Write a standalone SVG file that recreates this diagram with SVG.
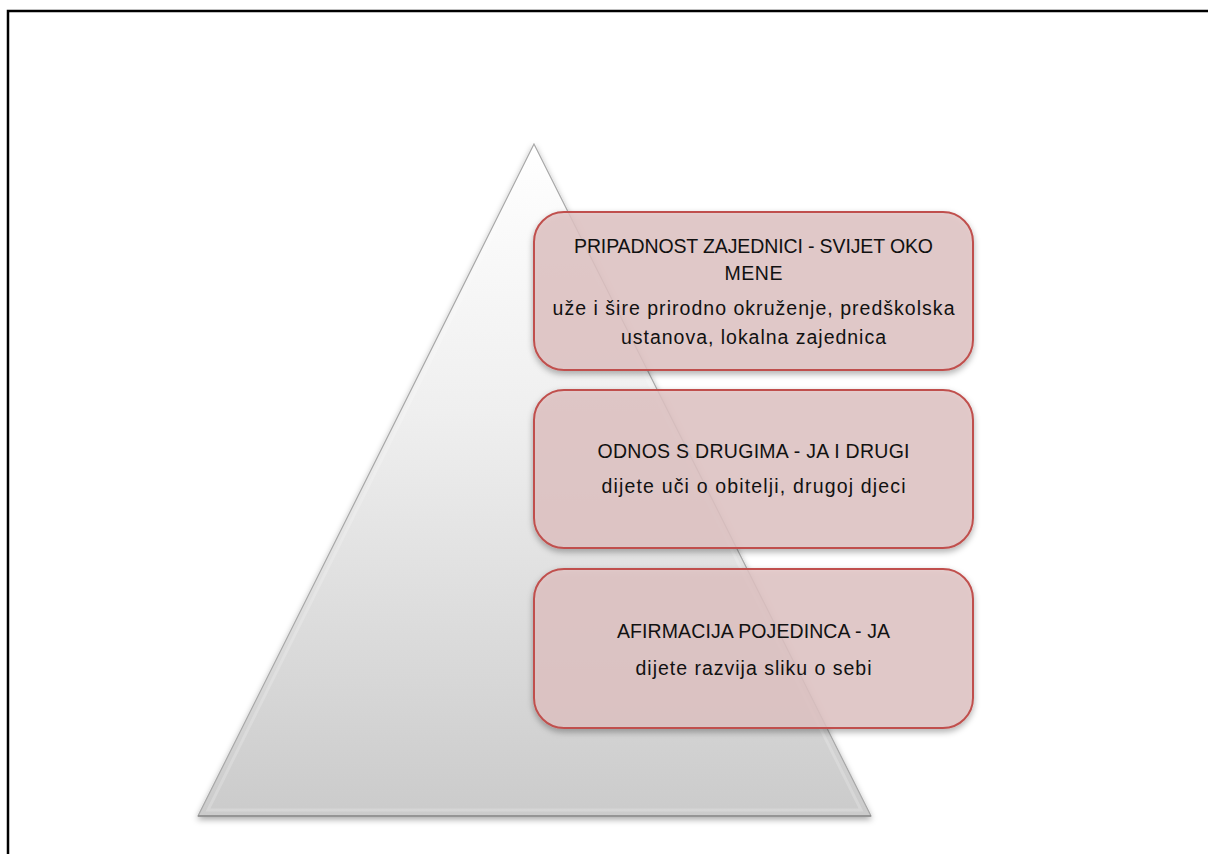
<svg xmlns="http://www.w3.org/2000/svg" width="1208" height="854" viewBox="0 0 1208 854">
<style>
.frame{fill:none;stroke:#000;stroke-width:2.5}
.box{fill:#e2c4c4;fill-opacity:0.82;stroke:#c0504d;stroke-width:2}
.t{font-family:"Liberation Sans",Arial,sans-serif;font-size:19.5px;fill:#111;text-anchor:middle}
</style>
<defs>
<linearGradient id="tri" x1="0" y1="0" x2="0" y2="1">
<stop offset="0" stop-color="#ffffff"/>
<stop offset="0.4" stop-color="#efefef"/>
<stop offset="1" stop-color="#cbcbcb"/>
</linearGradient>
<filter id="sh" x="-10%" y="-10%" width="120%" height="130%">
<feDropShadow dx="0" dy="3" stdDeviation="3" flood-color="#000" flood-opacity="0.35"/>
</filter>
</defs>
<rect class="frame" x="8" y="11" width="1220" height="870"/>
<g id="pyramid">
<polygon points="534,144 198,816 871,816" fill="url(#tri)" stroke="#a8a8a8" stroke-width="1.2" filter="url(#sh)"/>
<polygon points="534,152 208,810 861,810" fill="none" stroke="#ffffff" stroke-opacity="0.2" stroke-width="3"/>
<line x1="198" y1="816" x2="871" y2="816" stroke="#888" stroke-width="1.5"/>
</g>
<g id="box-top">
<rect class="box" x="534" y="212" width="439" height="158" rx="30" filter="url(#sh)"/>
<text class="t" x="753.5" y="253" textLength="359">PRIPADNOST ZAJEDNICI - SVIJET OKO</text>
<text class="t" x="753.5" y="280" textLength="58">MENE</text>
<text class="t" x="753.5" y="315" textLength="402">uže i šire prirodno okruženje, predškolska</text>
<text class="t" x="753.5" y="344" textLength="265">ustanova, lokalna zajednica</text>
</g>
<g id="box-middle">
<rect class="box" x="534" y="390" width="439" height="158" rx="30" filter="url(#sh)"/>
<text class="t" x="753.5" y="458" textLength="312">ODNOS S DRUGIMA - JA I DRUGI</text>
<text class="t" x="753.5" y="493" textLength="304">dijete uči o obitelji, drugoj djeci</text>
</g>
<g id="box-bottom">
<rect class="box" x="534" y="569" width="439" height="159" rx="30" filter="url(#sh)"/>
<text class="t" x="753.5" y="638" textLength="273">AFIRMACIJA POJEDINCA - JA</text>
<text class="t" x="753.5" y="675" textLength="236">dijete razvija sliku o sebi</text>
</g>
<g id="connectors"/>
</svg>
